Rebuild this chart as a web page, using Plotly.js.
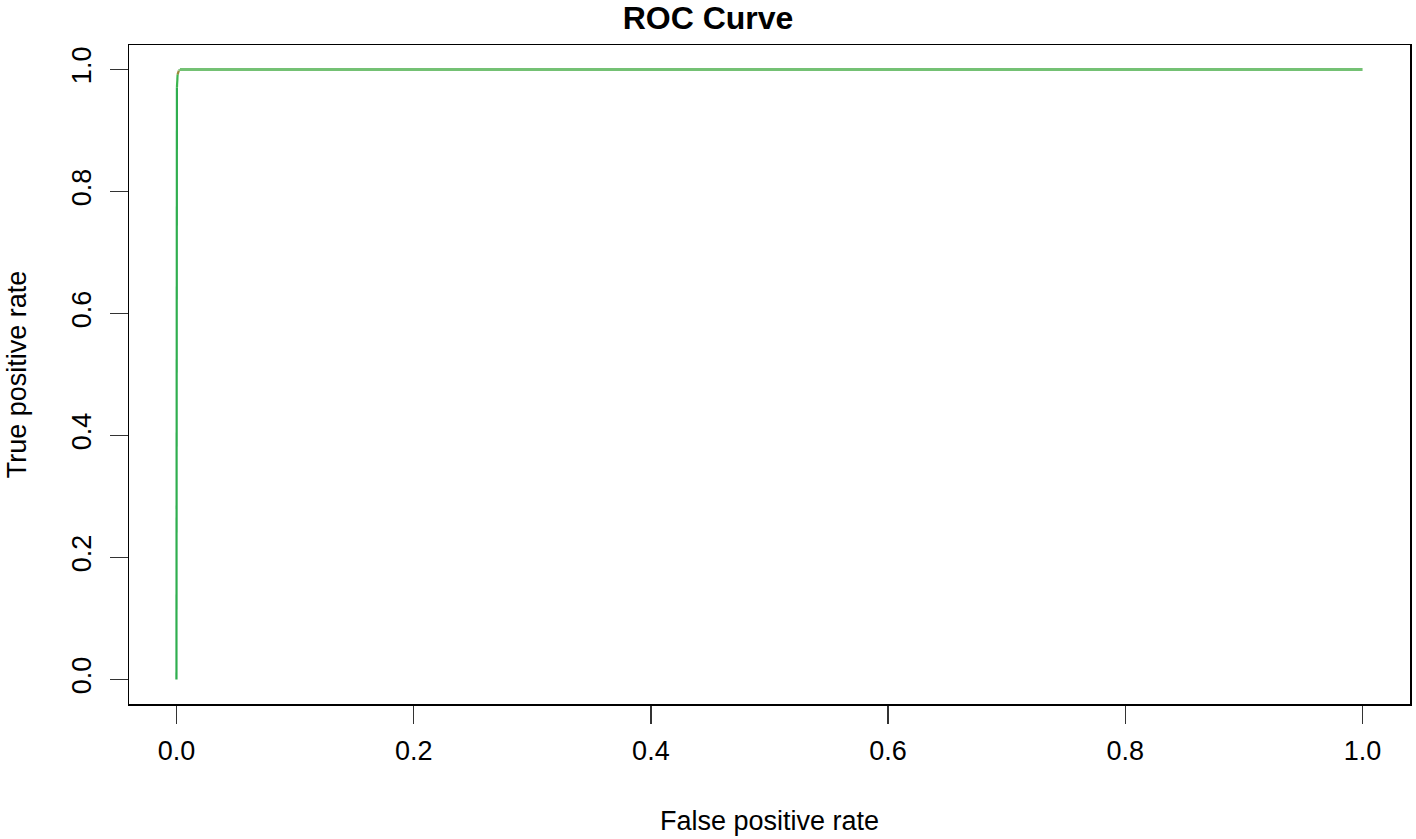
<!DOCTYPE html>
<html>
<head>
<meta charset="utf-8">
<script src="https://cdn.plot.ly/plotly-3.0.1.min.js"></script>
<style>html,body{margin:0;padding:0;background:#fff;}#chart{width:1416px;height:839px;}</style>
</head>
<body>
<div id="chart"></div>
<script>
// ROC curve points (false positive rate, true positive rate)
const fpr = [0, 0.0004, 0.001, 0.002, 0.003, 1.0];
const tpr = [0, 0.97, 0.992, 0.998, 1.0, 1.0];
// colour of each segment (by cutoff, as ROCR colorize)
const segColors = ['#2fae4f', '#3cb54f', '#9a8a3a', '#7cc277', '#74c174'];
const tickVals = [0, 0.2, 0.4, 0.6, 0.8, 1.0];
const tickText = ['0.0', '0.2', '0.4', '0.6', '0.8', '1.0'];

const traces = [];
for (let i = 0; i < fpr.length - 1; i++) {
  traces.push({
    x: [fpr[i], fpr[i + 1]],
    y: [tpr[i], tpr[i + 1]],
    mode: 'lines',
    type: 'scatter',
    line: {color: segColors[i], width: i === segColors.length - 1 ? 3 : 2.2},
    hoverinfo: 'skip',
    showlegend: false
  });
}

const font = {family: 'Liberation Sans, Arial, Helvetica, sans-serif', size: 27, color: '#000'};

const layout = {
  width: 1416, height: 839,
  margin: {l: 129, r: 6, t: 45, b: 135},
  paper_bgcolor: '#fff', plot_bgcolor: '#fff',
  font: font,
  title: {
    text: '<b>ROC Curve</b>',
    font: {family: font.family, size: 32, color: '#000'},
    x: 0.5, xanchor: 'center',
    y: 1 - 18 / 839, yanchor: 'middle', yref: 'container'
  },
  xaxis: {
    range: [-0.04, 1.04],
    tickvals: tickVals, ticktext: tickText,
    ticks: 'outside', ticklen: 18, tickwidth: 1.5, tickcolor: '#333',
    showgrid: false, zeroline: false,
    showline: true, mirror: true, linecolor: '#000', linewidth: 1.5,
    tickfont: font,
    ticklabelstandoff: 4,
    title: {text: 'False positive rate', font: font, standoff: 46}
  },
  yaxis: {
    range: [-0.04, 1.04],
    tickvals: tickVals, ticktext: tickText,
    ticks: 'outside', ticklen: 18, tickwidth: 1.5, tickcolor: '#333',
    tickangle: -90,
    showgrid: false, zeroline: false,
    showline: true, mirror: true, linecolor: '#000', linewidth: 1.5,
    tickfont: font,
    ticklabelstandoff: 8,
    title: {text: 'True positive rate', font: font, standoff: 32}
  }
};

Plotly.newPlot('chart', traces, layout, {displayModeBar: false, staticPlot: true});
</script>
</body>
</html>
